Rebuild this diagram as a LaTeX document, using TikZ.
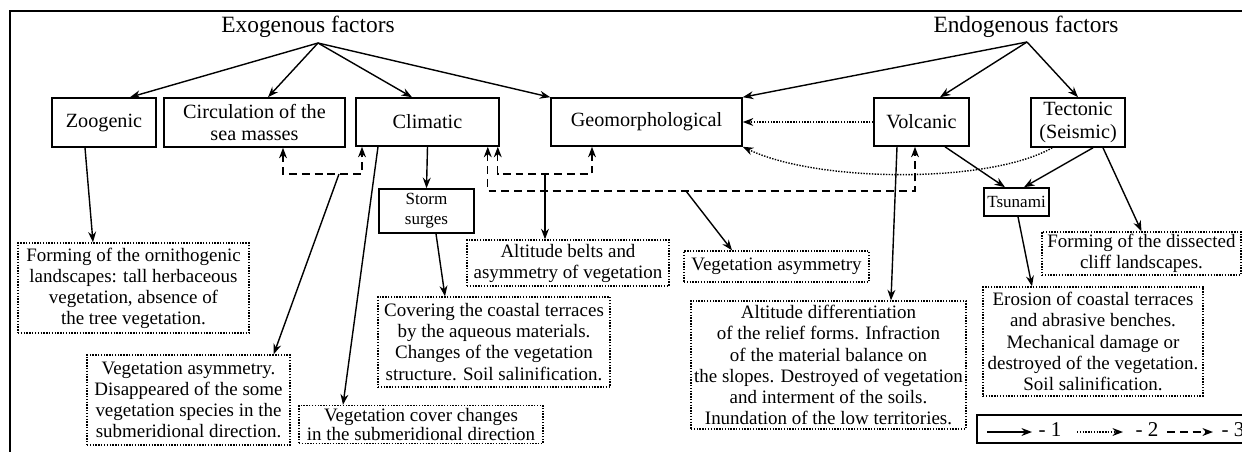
\documentclass[tikz,border=0pt]{standalone}
\usepackage{fontspec}
\setmainfont{Liberation Serif}
\usetikzlibrary{arrows.meta,calc}

\begin{document}
\begin{tikzpicture}[x=0.02cm,y=-0.02cm,
    >={Stealth[length=6pt,width=4.5pt]},
    line width=0.8pt,
    factor/.style={draw,line width=0.9pt,align=center,inner sep=1pt,font=\fontsize{11.5}{13}\selectfont},
    small factor/.style={factor,font=\fontsize{9.7}{11.3}\selectfont},
    effect/.style={draw,dash pattern=on 0.8pt off 0.8pt,line width=0.8pt,align=center,inner sep=1pt,font=\fontsize{10.8}{12}\selectfont},
    heading/.style={font=\fontsize{13.3}{15}\selectfont,inner sep=0pt},
    legend label/.style={font=\fontsize{12}{14}\selectfont,inner sep=0pt},
    dash link/.style={dash pattern=on 4.5pt off 2.8pt},
    dot link/.style={->,dash pattern=on 0.8pt off 0.8pt}]
\useasboundingbox (0,0) rectangle (1242,451);
\draw[line width=1pt] (1260,11) -- (10,11) -- (10,470);
\node[heading] (exo) at (308,26.5) {Exogenous factors};
\node[heading] (endo) at (1026,26.5) {Endogenous factors};
\coordinate (exo hub) at (318,43);
\coordinate (endo hub) at (1027,42);
\node[factor,minimum width=2.08cm,minimum height=0.98cm] (zoo) at (104,122.5) {Zoogenic};
\node[factor,minimum width=3.62cm,minimum height=0.98cm] (circ) at (254.5,122.5) {Circulation of the\\sea masses};
\node[factor,minimum width=2.86cm,minimum height=0.96cm] (clim) at (427.5,122) {Climatic};
\node[factor,minimum width=3.82cm,minimum height=0.96cm] (geo) at (646.5,122) {Geomorphological};
\node[factor,minimum width=1.9cm,minimum height=0.96cm] (volc) at (921.5,122) {Volcanic};
\node[factor,minimum width=1.88cm,minimum height=0.98cm] (tect) at (1078,122.5) {Tectonic\\(Seismic)};
\node[small factor,minimum width=1.9cm,minimum height=0.88cm] (storm) at (426.5,211) {Storm\\surges};
\node[small factor,minimum width=1.3cm,minimum height=0.56cm] (tsu) at (1016.5,202) {Tsunami};
\node[effect,minimum width=4.62cm,minimum height=1.8cm] (zoo eff) at (133.5,288) {Forming of the ornithogenic\\landscapes: tall herbaceous\\vegetation, absence of\\the tree vegetation.};
\node[effect,minimum width=4.06cm,minimum height=1.8cm] (circ eff) at (188.5,400) {Vegetation asymmetry.\\Disappeared of the some\\vegetation species in the\\submeridional direction.};
\node[effect,minimum width=4.88cm,minimum height=0.76cm,inner sep=0.3pt,font=\fontsize{10.8}{11.3}\selectfont] (clim eff) at (421,424.5) {Vegetation cover changes\\in the submeridional direction};
\node[effect,minimum width=4.64cm,minimum height=1.8cm] (storm eff) at (494,342) {Covering the coastal terraces\\by the aqueous materials.\\Changes of the vegetation\\structure. Soil salinification.};
\node[effect,minimum width=4.04cm,minimum height=0.92cm] (geo eff) at (568,263) {Altitude belts and\\asymmetry of vegetation};
\node[effect,minimum width=3.7cm,minimum height=0.62cm] (veg eff) at (776.5,266.5) {Vegetation asymmetry};
\node[effect,minimum width=5.5cm,minimum height=2.56cm] (volc eff) at (828.5,365) {Altitude differentiation\\of the relief forms. Infraction\\of the material balance on\\the slopes. Destroyed of vegetation\\and interment of the soils.\\Inundation of the low territories.};
\node[effect,minimum width=3.98cm,minimum height=0.86cm] (tect eff) at (1141.5,253.5) {Forming of the dissected\\cliff landscapes.};
\node[effect,minimum width=4.4cm,minimum height=2.18cm] (tsu eff) at (1093,341.5) {Erosion of coastal terraces\\and abrasive benches.\\Mechanical damage or\\destroyed of the vegetation.\\Soil salinification.};
\coordinate (jA) at (339,174);
\coordinate (jB) at (545,174);
\coordinate (jC) at (686,191);
\draw[->] (exo hub) -- ($(zoo.north)+(26,0)$);
\draw[->] (exo hub) -- ($(circ.north)+(13.5,0)$);
\draw[->] (exo hub) -- ($(clim.north)+(-15.5,0)$);
\draw[->] (exo hub) -- (geo.north west);
\draw[->] (endo hub) -- (geo.north east);
\draw[->] (endo hub) -- ($(volc.north)+(18.5,0)$);
\draw[->] (endo hub) -- (tect.north);
\draw[->] (clim.south) -- (storm.north);
\draw[->] ($(volc.south)+(23.5,0)$) -- ($(tsu.north)+(-11.5,0)$);
\draw[->] ($(tect.south)+(15,0)$) -- ($(tsu.north)+(7.5,0)$);
\draw[->] ($(tect.south)+(25,0)$) -- (tect eff.north);
\draw[->] ($(zoo.south)+(-19,0)$) -- ($(zoo eff.north)+(-40.5,0)$);
\draw[->] ($(clim.south)+(-49.5,0)$) -- ($(clim eff.north)+(-78,0)$);
\draw[->] ($(storm.south)+(9.5,0)$) -- ($(storm eff.north)+(-49,0)$);
\draw[->] ($(volc.south)+(-24.5,0)$) -- ($(volc eff.north)+(62.5,0)$);
\draw[->] ($(tsu.south)+(1.5,0)$) -- ($(tsu eff.north)+(-61,0)$);
\draw[dash link,<->] ($(circ.south)+(28.5,0)$) |- (jA) -| ($(clim.south)+(-65.5,0)$);
\draw[dash link,<->] ($(clim.south east)+(-2,0)$) |- (jB) -| ($(geo.south)+(-54.5,0)$);
\draw[dash link,<->] ($(clim.south east)+(-12,0)$) |- (jC) -| ($(volc.south)+(-6.5,0)$);
\draw[->] (jA) -- ($(circ eff.north east)+(-17,0)$);
\draw[->] (jB) -- (jB |- geo eff.north);
\draw[->] (jC) -- ($(veg eff.north)+(-44.5,0)$);
\draw[dot link] (volc.west) -- (geo.east);
\draw[dot link] ($(tect.south west)+(22,0)$) .. controls +(-63,36) and +(75,36) .. (geo.south east);
\node[draw,line width=1.3pt,minimum width=5.8cm,minimum height=0.56cm,anchor=west] (legend) at (976,429) {};
\coordinate (l1a) at (987,432); \coordinate (l1b) at (1032,432);
\coordinate (l2a) at (1077,432); \coordinate (l2b) at (1123,432);
\coordinate (l3a) at (1167,432); \coordinate (l3b) at (1213,432);
\draw[->] (l1a) -- (l1b);
\draw[dot link] (l2a) -- (l2b);
\draw[dash link,->] (l3a) -- (l3b);
\node[legend label] (l1) at (1050,430) {- 1};
\node[legend label] (l2) at (1147,430) {- 2};
\node[legend label] (l3) at (1233,430) {- 3};
\end{tikzpicture}
\end{document}
